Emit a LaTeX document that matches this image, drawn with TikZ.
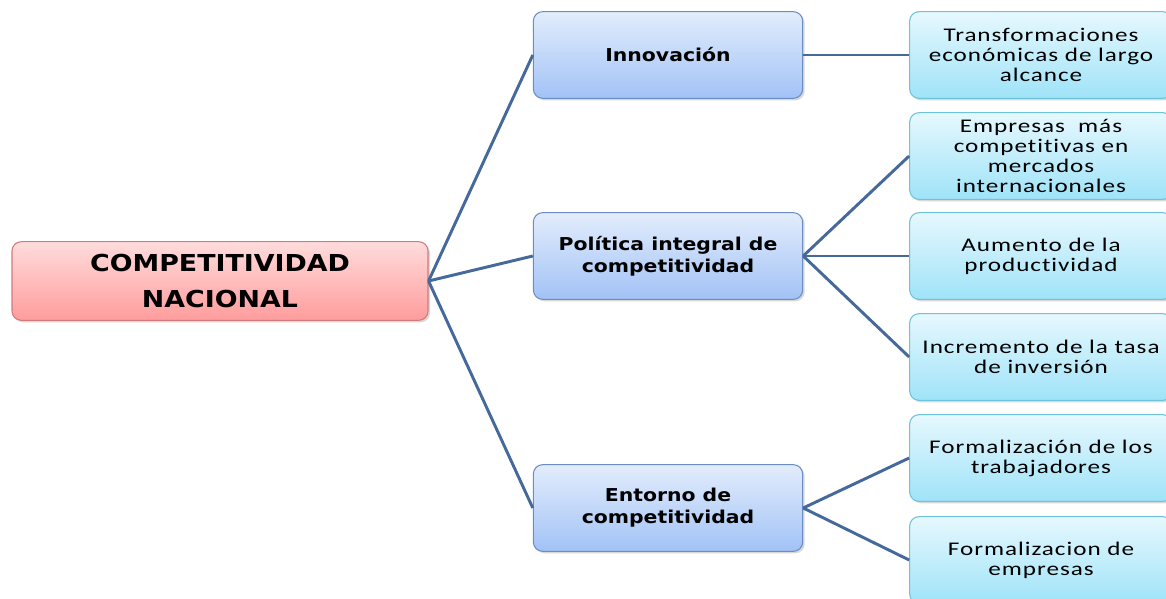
\documentclass[tikz,border=0pt]{standalone}
\usepackage{fontspec}
\setmainfont{Carlito}
\newfontfamily\headfont[FakeStretch=1.15]{DejaVu Sans}
\newfontfamily\itemfont[FakeStretch=1.3,LetterSpace=5,Ligatures={NoCommon}]{Carlito}
\usetikzlibrary{shadows}

\definecolor{linkblue}{HTML}{46699B}
\definecolor{rootline}{HTML}{D27B7B}
\definecolor{roottop}{HTML}{FFDCDC}
\definecolor{rootbot}{HTML}{FF9C9C}
\definecolor{midline}{HTML}{6C8DC2}
\definecolor{midtop}{HTML}{E2EDFC}
\definecolor{midbot}{HTML}{A2C2F6}
\definecolor{itemline}{HTML}{6DC3DA}
\definecolor{itemtop}{HTML}{E6F8FE}
\definecolor{itembot}{HTML}{9FE3F8}

\begin{document}
\begin{tikzpicture}[x=0.75pt,y=-0.75pt,
  box/.style={rounded corners=7pt, line width=0.8pt, align=center,
    drop shadow={shadow xshift=1.5pt, shadow yshift=-1.5pt, opacity=0.3}},
  rootbox/.style={box, draw=rootline, top color=roottop, bottom color=rootbot,
    minimum width=312pt, minimum height=59pt,
    font=\headfont\bfseries\fontsize{17.5}{27}\selectfont},
  midbox/.style={box, draw=midline, top color=midtop, bottom color=midbot,
    minimum width=202pt, minimum height=65pt,
    font=\headfont\bfseries\fontsize{13.3}{16.5}\selectfont},
  itembox/.style={box, draw=itemline, top color=itemtop, bottom color=itembot,
    minimum width=197pt, minimum height=65pt,
    font=\itemfont\fontsize{14.5}{15}\selectfont},
  link/.style={draw=linkblue, line width=2.2pt}]

\useasboundingbox (0,0) rectangle (1166,599);
\fill[white] (0,0) rectangle (1166,599);

% root
\node[rootbox] (comp) at (220,281) {COMPETITIVIDAD\\NACIONAL};

% middle column
\node[midbox] (innov) at (668,55) {Innovación};
\node[midbox] (polit) at (668,256) {Política integral de\\competitividad};
\node[midbox] (entor) at (668,508) {Entorno de\\competitividad};

% right column
\node[itembox] (transf) at (1041,55) {Transformaciones\\económicas de largo\\alcance};
\node[itembox] (empres) at (1041,156) {Empresas~ más\\competitivas en\\mercados\\internacionales};
\node[itembox] (aument) at (1041,256) {Aumento de la\\productividad};
\node[itembox] (increm) at (1041,357) {Incremento de la tasa\\de inversión};
\node[itembox] (formt) at (1041,458) {Formalización de los\\trabajadores};
\node[itembox] (forme) at (1041,560) {Formalizacion de\\empresas};

% connectors
\begin{scope}[on background layer/.try]
\draw[link] (comp.east) -- (innov.west);
\draw[link] (comp.east) -- (polit.west);
\draw[link] (comp.east) -- (entor.west);

\draw[link] (innov.east) -- (transf.west);
\draw[link] (polit.east) -- (empres.west);
\draw[link] (polit.east) -- (aument.west);
\draw[link] (polit.east) -- (increm.west);
\draw[link] (entor.east) -- (formt.west);
\draw[link] (entor.east) -- (forme.west);
\end{scope}

\end{tikzpicture}
\end{document}
